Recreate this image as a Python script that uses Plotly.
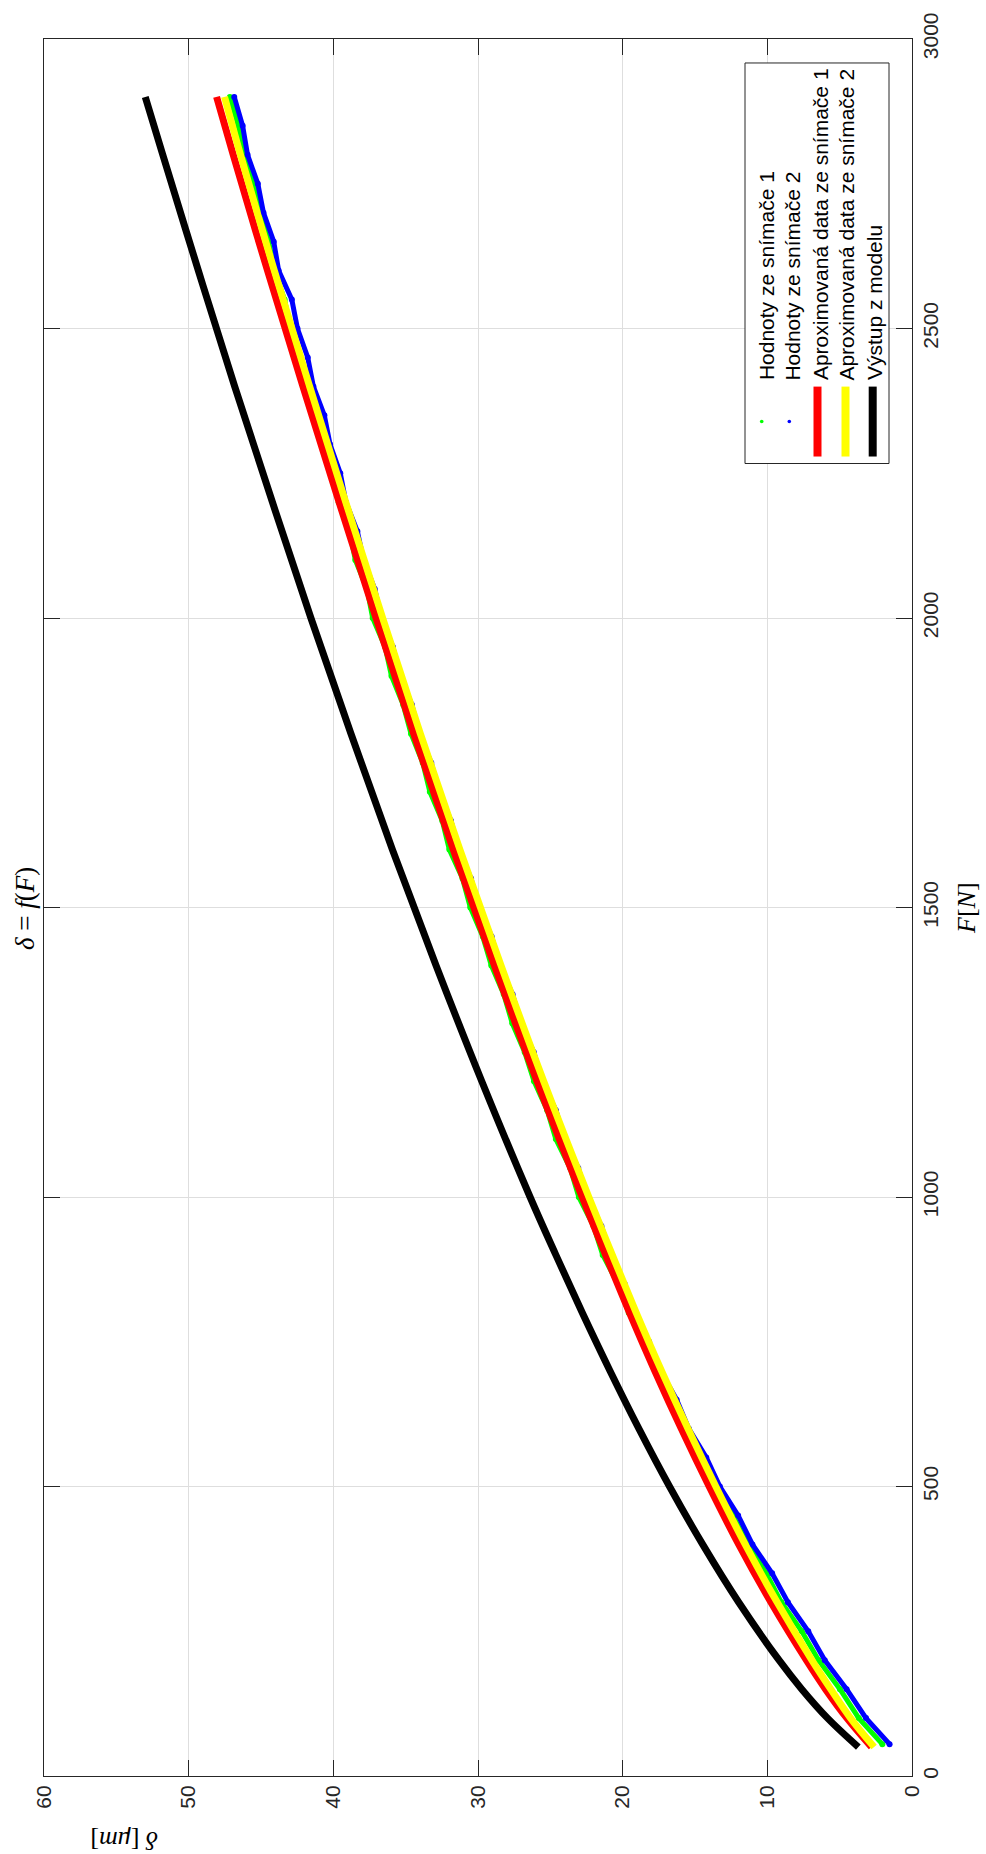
import plotly.graph_objects as go

# ---------------- data ----------------
F_fit = [50, 100, 150, 200, 300, 400, 500, 600, 700, 800, 900, 1000, 1200, 1400,
         1600, 1800, 2000, 2200, 2400, 2600, 2800, 2900]
d_fit1 = [2.80, 4.50, 5.98, 7.30, 9.75, 11.98, 14.02, 15.95, 17.78, 19.52, 21.18, 22.80,
          25.92, 28.87, 31.71, 34.44, 37.05, 39.60, 42.10, 44.55, 46.92, 48.07]
d_fit2 = [2.62, 4.25, 5.62, 6.92, 9.32, 11.53, 13.56, 15.49, 17.32, 19.06, 20.72, 22.34,
          25.46, 28.41, 31.25, 33.98, 36.59, 39.14, 41.64, 44.08, 46.42, 47.52]
d_model = [3.71, 5.84, 7.62, 9.19, 11.98, 14.47, 16.76, 18.88, 20.88, 22.79, 24.62, 26.40,
           29.74, 32.90, 35.92, 38.78, 41.55, 44.21, 46.82, 49.33, 51.79, 53.00]

F_meas = [55, 100, 150, 200, 250, 300, 350, 400, 450, 500, 550, 600, 650, 700, 750, 800,
          850, 900, 950, 1000, 1050, 1100, 1150, 1200, 1250, 1300, 1350, 1400, 1450, 1500,
          1550, 1600, 1650, 1700, 1750, 1800, 1850, 1900, 1950, 2000, 2050, 2100, 2150, 2200,
          2250, 2300, 2350, 2400, 2450, 2500, 2550, 2600, 2650, 2700, 2750, 2800, 2850, 2900]
d_sensor1 = [2.05, 3.68, 4.98, 6.46, 7.62, 9.03, 10.08, 11.37, 12.38, 13.62, 14.53, 15.71,
             16.54, 17.67, 18.49, 19.58, 20.33, 21.38, 22.02, 23.03, 23.63, 24.62, 25.22,
             26.13, 26.77, 27.63, 28.22, 29.08, 29.67, 30.53, 31.07, 31.98, 32.47, 33.33,
             33.82, 34.63, 35.17, 35.98, 36.42, 37.28, 37.67, 38.48, 38.87, 39.63, 40.02,
             40.73, 41.12, 41.88, 42.27, 42.98, 43.37, 44.08, 44.47, 45.13, 45.52, 46.18,
             46.57, 47.15]
d_sensor2 = [1.55, 3.18, 4.52, 6.03, 7.17, 8.58, 9.67, 11.03, 12.02, 13.28, 14.22, 15.43,
             16.27, 17.38, 18.17, 19.18, 19.87, 20.83, 21.47, 22.43, 23.07, 24.01, 24.62,
             25.55, 26.14, 27.04, 27.61, 28.50, 29.06, 29.93, 30.48, 31.34, 31.87, 32.71,
             33.23, 34.07, 34.57, 35.39, 35.88, 36.68, 37.14, 37.91, 38.34, 39.13, 39.52,
             40.23, 40.62, 41.38, 41.77, 42.48, 42.87, 43.78, 44.12, 44.83, 45.22, 45.93,
             46.27, 46.85]

legend_names = ["Hodnoty ze snímače 1", "Hodnoty ze snímače 2",
                "Aproximovaná data ze snímače 1", "Aproximovaná data ze snímače 2",
                "Výstup z modelu"]
x_ticks = [0, 10, 20, 30, 40, 50, 60]
y_ticks = [0, 500, 1000, 1500, 2000, 2500, 3000]

# ---------------- geometry helpers (pixel -> paper) ----------------
W, H = 986, 1854
L, R, T, B = 44, 74, 37, 78
PW, PH = W - L - R, H - T - B


def px(x):
    return (x - L) / PW


def py(y):
    return (H - B - y) / PH


AX = "#262626"
fig = go.Figure()

fig.add_trace(go.Scatter(x=d_sensor1, y=F_meas, mode="lines+markers",
                         line=dict(color="#00ff00", width=5),
                         marker=dict(color="#00ff00", size=6), name=legend_names[0]))
fig.add_trace(go.Scatter(x=d_sensor2, y=F_meas, mode="lines+markers",
                         line=dict(color="#0000ff", width=5),
                         marker=dict(color="#0000ff", size=6), name=legend_names[1]))
fig.add_trace(go.Scatter(x=d_fit1, y=F_fit, mode="lines", line_shape="spline",
                         line=dict(color="#ff0000", width=7), name=legend_names[2]))
fig.add_trace(go.Scatter(x=d_fit2, y=F_fit, mode="lines", line_shape="spline",
                         line=dict(color="#ffff00", width=7), name=legend_names[3]))
fig.add_trace(go.Scatter(x=d_model, y=F_fit, mode="lines", line_shape="spline",
                         line=dict(color="#000000", width=7), name=legend_names[4]))

tickfont = dict(family="Liberation Sans, Arial, sans-serif", size=21, color=AX)
fig.update_xaxes(range=[60, 0], tickvals=x_ticks, ticktext=[str(v) for v in x_ticks],
                 tickangle=-90, ticks="inside", ticklen=16, tickcolor=AX, mirror="ticks",
                 showline=True, linecolor=AX, linewidth=1, showgrid=True,
                 gridcolor="#dedede", gridwidth=1, zeroline=False, tickfont=tickfont)
fig.update_yaxes(range=[0, 3000], tickvals=y_ticks, ticktext=[str(v) for v in y_ticks],
                 side="right", tickangle=-90, ticks="inside", ticklen=16, tickcolor=AX,
                 mirror="ticks", showline=True, linecolor=AX, linewidth=1, showgrid=True,
                 gridcolor="#dedede", gridwidth=1, zeroline=False, tickfont=tickfont)

shapes = []
annotations = []

# legend box (drawn manually, rotated like the rest of the figure)
shapes.append(dict(type="rect", xref="paper", yref="paper", x0=px(745), x1=px(889),
                   y0=py(462), y1=py(61), line=dict(color=AX, width=1),
                   fillcolor="white", layer="above"))
entry_x = [766, 792.5, 820.5, 847, 874]
sym_x = [761.7, 789.3, 817.5, 845.5, 872.7]
sym_col = ["#00ff00", "#0000ff", "#ff0000", "#ffff00", "#000000"]
for i in range(5):
    if i < 2:
        shapes.append(dict(type="circle", xref="paper", yref="paper",
                           x0=px(sym_x[i] - 1.8), x1=px(sym_x[i] + 1.8),
                           y0=py(421.8), y1=py(418.2), fillcolor=sym_col[i],
                           line=dict(width=0), layer="above"))
    else:
        shapes.append(dict(type="line", xref="paper", yref="paper",
                           x0=px(sym_x[i]), x1=px(sym_x[i]), y0=py(455), y1=py(385),
                           line=dict(color=sym_col[i], width=8), layer="above"))
    annotations.append(dict(text=legend_names[i], xref="paper", yref="paper",
                            x=px(entry_x[i]), y=py(381), xanchor="center", yanchor="bottom",
                            textangle=-90, showarrow=False,
                            font=dict(family="Liberation Sans, Arial, sans-serif", size=21,
                                      color="#000000")))

serif = "Liberation Serif, Times New Roman, serif"
annotations.append(dict(text="<i>δ</i> = <i>f</i>(<i>F</i>)", xref="paper", yref="paper",
                        x=px(25), y=py(908), xanchor="center", yanchor="middle",
                        textangle=-90, showarrow=False,
                        font=dict(family=serif, size=27, color="#000000")))
annotations.append(dict(text="<i>F</i>[<i>N</i>]", xref="paper", yref="paper",
                        x=px(967), y=py(907), xanchor="center", yanchor="middle",
                        textangle=-90, showarrow=False,
                        font=dict(family=serif, size=26, color="#000000")))
annotations.append(dict(text="<i>δ</i> [<i>μm</i>]", xref="paper", yref="paper",
                        x=px(124), y=py(1840), xanchor="center", yanchor="middle",
                        textangle=180, showarrow=False,
                        font=dict(family=serif, size=26, color="#000000")))

fig.update_layout(width=W, height=H, margin=dict(l=L, r=R, t=T, b=B, pad=0),
                  paper_bgcolor="white", plot_bgcolor="white", showlegend=False,
                  shapes=shapes, annotations=annotations)

fig.write_html("out.html")
